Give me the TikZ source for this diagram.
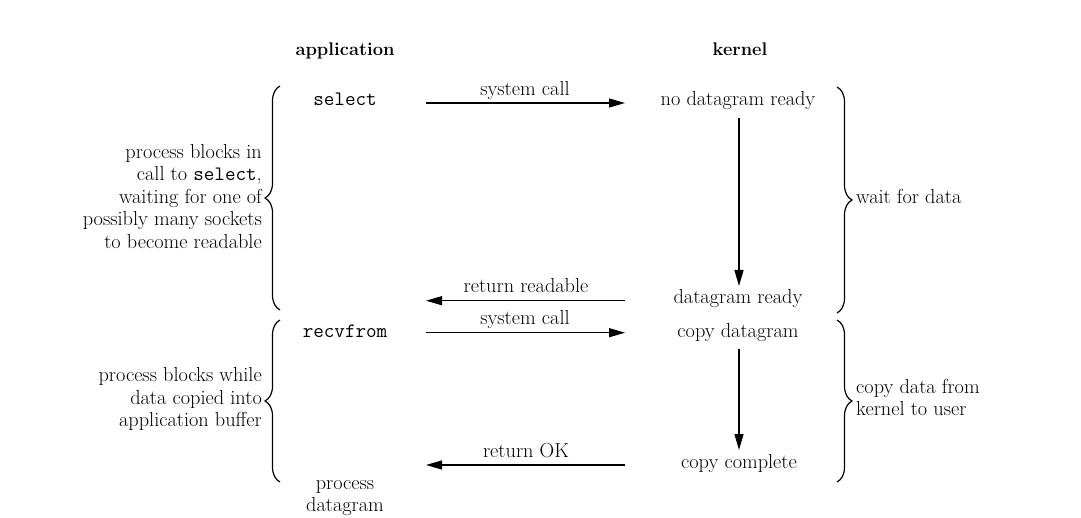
\documentclass[tikz,border=0pt]{standalone}
\usepackage{fontspec}
\usetikzlibrary{arrows.meta,decorations.pathreplacing}
\newcommand{\codefont}{\fontsize{20.5}{22.5}\selectfont\ttfamily}
\begin{document}
\begin{tikzpicture}[x=1pt,y=-1pt,
  txt/.style={font=\fontsize{20.3}{22.5}\selectfont, inner sep=0pt, anchor=base},
  hdr/.style={txt, font=\fontsize{18.3}{22.5}\selectfont\bfseries},
  code/.style={txt, font=\codefont},
  lbl/.style={txt},
  flow/.style={line width=1.2pt, -{Triangle[length=16pt,width=9pt]}},
  bracestyle/.style={line width=1.2pt, decorate, decoration={brace, amplitude=15pt}},
]
\useasboundingbox (0,0) rectangle (1081,518);

% headers
\node[hdr] (app) at (345,56) {application};
\node[hdr] (ker) at (740,56) {kernel};

% application column
\node[code] (sel) at (345,106) {select};
\node[code] (rcv) at (345,337.5) {recvfrom};
\node[txt, align=center, anchor=base] (proc) at (345,511.7) {process\\datagram};

% kernel column
\node[txt] (nodg) at (738,106) {no datagram ready};
\node[txt] (dgr) at (738,304) {datagram ready};
\node[txt] (cpd) at (738,337.5) {copy datagram};
\node[txt] (cpc) at (739,468.5) {copy complete};

% arrow end coordinates
\coordinate (a1s) at (426,103);
\coordinate (a1e) at (625,103);
\coordinate (a2s) at (625,300.7);
\coordinate (a2e) at (426,300.7);
\coordinate (a3s) at (426,332.7);
\coordinate (a3e) at (625,332.7);
\coordinate (a4s) at (625,465);
\coordinate (a4e) at (426,465);
\coordinate (v1s) at (739,118);
\coordinate (v1e) at (739,286);
\coordinate (v2s) at (739,349);
\coordinate (v2e) at (739,450);

\draw[flow] (a1s) -- (a1e);
\draw[flow] (a2s) -- (a2e);
\draw[flow] (a3s) -- (a3e);
\draw[flow] (a4s) -- (a4e);
\draw[flow] (v1s) -- (v1e);
\draw[flow] (v2s) -- (v2e);

% arrow labels
\node[lbl] (l1) at (525,95.5) {system call};
\node[lbl] (l2) at (526,292.7) {return readable};
\node[lbl] (l3) at (525,325) {system call};
\node[lbl] (l4) at (526,457.7) {return OK};

% braces
\coordinate (lb1b) at (280,310);
\coordinate (lb1t) at (280,86);
\coordinate (lb2b) at (280,482);
\coordinate (lb2t) at (280,320);
\coordinate (rb1t) at (837,87);
\coordinate (rb1b) at (837,313);
\coordinate (rb2t) at (837,320);
\coordinate (rb2b) at (837,482);
\draw[bracestyle] (lb1b) -- (lb1t);
\draw[bracestyle] (lb2b) -- (lb2t);
\draw[bracestyle] (rb1t) -- (rb1b);
\draw[bracestyle] (rb2t) -- (rb2b);

% brace texts (base anchor = baseline of last line)
\node[txt, align=right, anchor=base east] (wl1) at (262,248.3) {process blocks in\\call to {\codefont select},\\waiting for one of\\possibly many sockets\\to become readable};
\node[txt, align=right, anchor=base east] (wl2) at (262,426.7) {process blocks while\\data copied into\\application buffer};
\node[txt, anchor=base west] (wr1) at (856,203.3) {wait for data};
\node[txt, align=left, anchor=base west] (wr2) at (856,415.7) {copy data from\\kernel to user};
\end{tikzpicture}
\end{document}
